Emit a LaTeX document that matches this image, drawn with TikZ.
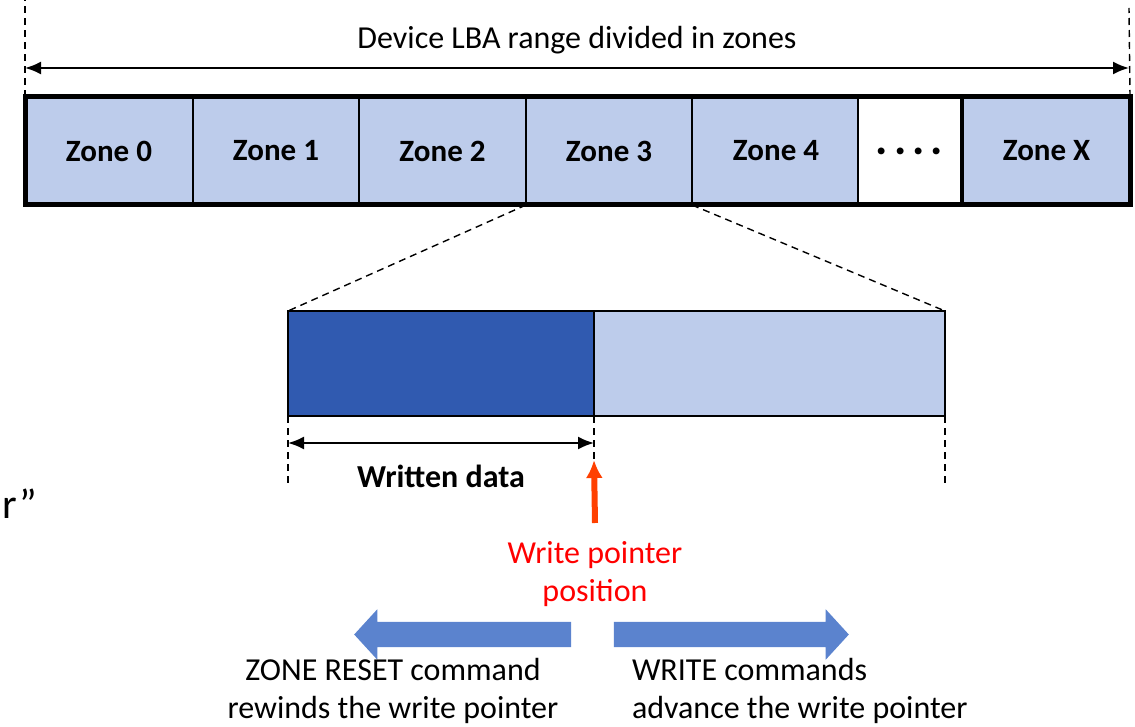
\documentclass[tikz,border=0pt]{standalone}
\usepackage{fontspec}
\setmainfont{Carlito}
\usetikzlibrary{arrows.meta,shapes.arrows}

\definecolor{zonefill}{RGB}{189,204,235}
\definecolor{zonedark}{RGB}{48,90,176}
\definecolor{cmdblue}{RGB}{91,131,206}
\definecolor{ptrred}{RGB}{255,64,0}

\begin{document}
\begin{tikzpicture}[x=1pt, y=-1pt,
    every node/.style={inner sep=0pt, outer sep=0pt},
    zone/.style={draw, line width=1.6pt, fill=zonefill, minimum height=108pt,
                font=\fontsize{31}{37}\selectfont\bfseries},
    part/.style={draw, line width=2.4pt, minimum height=105pt},
    dsh/.style={line width=1.4pt, dash pattern=on 7pt off 5pt},
    dim/.style={{Latex[length=16pt,width=13pt]}-{Latex[length=16pt,width=13pt]}, line width=2pt},
    ptr/.style={-{Latex[length=18pt,width=17pt]}, line width=6pt, ptrred},
    cmd/.style={single arrow, fill=cmdblue, inner xsep=0pt, inner ysep=12.5pt,
                single arrow head extend=12.5pt, single arrow tip angle=95},
    txt/.style={font=\fontsize{32}{38}\selectfont, align=center},
  ]
  \useasboundingbox (0,0) rectangle (1135,727);

  % === Zones of the device ===
  \node[zone, minimum width=168pt] (z0) at (109,151)    {Zone 0};
  \node[zone, minimum width=166pt] (z1) at (276,151)    {Zone 1};
  \node[zone, minimum width=167pt] (z2) at (442.5,151)  {Zone 2};
  \node[zone, minimum width=166pt] (z3) at (609,151)    {Zone 3};
  \node[zone, minimum width=168pt] (z4) at (776,151)    {Zone 4};
  \node[zone, minimum width=103pt, fill=white, font=\fontsize{46}{46}\selectfont\bfseries]
    (zd) at (909.5,151) {.\hspace{6pt}.\hspace{6pt}.\hspace{6pt}.};
  \node[zone, minimum width=167pt] (zx) at (1046.5,151) {Zone X};
  \draw[line width=5pt] (z0.north west) rectangle (zx.south east);

  % === LBA range ===
  \coordinate (lt) at (25,0);
  \coordinate (rt) at (1129,8);
  \coordinate (la) at (25,68);
  \coordinate (ra) at (1129,68);
  \draw[dsh] (z0.north west) -- (lt);
  \draw[dsh] (zx.north east) -- (rt);
  \draw[dim] (la) -- (ra);
  \node[txt] (range) at (577,40) {Device LBA range divided in zones};

  % === Zone 3 zoomed ===
  \node[part, fill=zonedark, minimum width=306pt] (wr) at (441,363.5) {};
  \node[part, fill=zonefill, minimum width=351pt] (fr) at (769.5,363.5) {};
  \draw[dsh] (z3.south west) -- (wr.north west);
  \draw[dsh] (z3.south east) -- (fr.north east);

  \coordinate (wl) at (288,485);
  \coordinate (wt) at (594,460);
  \coordinate (fl) at (945,485);
  \draw[dsh] (wr.south west) -- (wl);
  \draw[dsh] (wr.south east) -- (wt);
  \draw[dsh] (fr.south east) -- (fl);
  \draw[dim] ([yshift=-27pt]wr.south west) -- ([yshift=-27pt]wr.south east);
  \node[txt, font=\fontsize{32}{38}\selectfont\bfseries] (wd) at (441,476) {Written data};

  % === Write pointer ===
  \node[txt, text=red, anchor=north, inner ysep=18pt] (wp) at (595,523) {Write pointer\\position};
  \draw[ptr] (wp.north) -- (wt);

  % === Commands ===
  \node[cmd, minimum height=217pt, shape border rotate=180] (reset) at (468.5,634.5) {};
  \node[cmd, minimum height=235pt] (write) at (725.5,634.5) {};
  \node[txt] (rtxt) at (393,691) {ZONE RESET command\\rewinds the write pointer};
  \node[txt, align=left, anchor=west] (wtxt) at (632,691) {WRITE commands\\advance the write pointer};

  % === Cut text at the left ===
  \node[font=\fontsize{42}{48}\selectfont, anchor=base east] (cut) at (37,518) {r”};

\end{tikzpicture}
\end{document}
